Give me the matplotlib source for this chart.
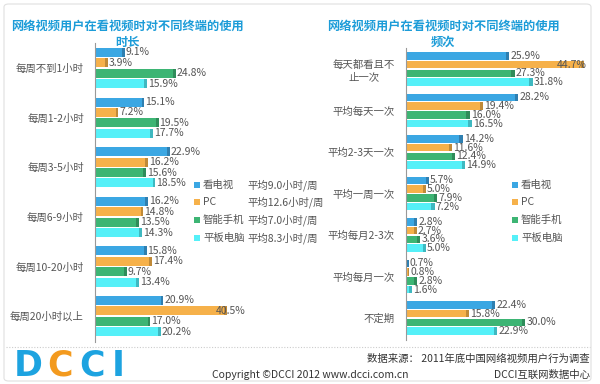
"""
网络视频用户在看视频时对不同终端的使用时长 / 频次 (DCCI 2011)
"""
import numpy as np
import matplotlib
matplotlib.use("Agg")
import matplotlib.pyplot as plt
from matplotlib.patches import Rectangle, FancyBboxPatch

plt.rcParams['font.family'] = ['Noto Sans CJK SC', 'DejaVu Sans']

# ---- data ----
devices = ['看电视', 'PC', '智能手机', '平板电脑']
avg_hours = [9.0, 12.6, 7.0, 8.3]

duration_cats = ['每周不到1小时', '每周1-2小时', '每周3-5小时', '每周6-9小时',
                 '每周10-20小时', '每周20小时以上']
duration_tv = [9.1, 15.1, 22.9, 16.2, 15.8, 20.9]
duration_pc = [3.9, 7.2, 16.2, 14.8, 17.4, 40.5]
duration_phone = [24.8, 19.5, 15.6, 13.5, 9.7, 17.0]
duration_pad = [15.9, 17.7, 18.5, 14.3, 13.4, 20.2]

freq_cats = ['每天都看且不\n止一次', '平均每天一次', '平均2-3天一次', '平均一周一次',
             '平均每月2-3次', '平均每月一次', '不定期']
freq_tv = [25.9, 28.2, 14.2, 5.7, 2.8, 0.7, 22.4]
freq_pc = [44.7, 19.4, 11.6, 5.0, 2.7, 0.8, 15.8]
freq_phone = [27.3, 16.0, 12.4, 7.9, 3.6, 2.8, 30.0]
freq_pad = [31.8, 16.5, 14.9, 7.2, 5.0, 1.6, 22.9]

colors = ['#3BA7E3', '#F6B14A', '#3DB574', '#55F0F8']
caps = ['#2F7FB0', '#C08A38', '#2F8C5A', '#3FB8C0']
title_color = '#1C9CD8'
text_color = '#555555'

W, H = 600, 384
fig = plt.figure(figsize=(6, 3.84), dpi=100)
fig.patch.set_facecolor('white')


def fx(px):
    return px / W


def fy(py):
    return 1 - py / H


# outer frame
fig.patches.append(FancyBboxPatch((fx(4), fy(381)), fx(587), (377 / H),
                                  boxstyle='round,pad=0,rounding_size=0.008',
                                  transform=fig.transFigure, fill=False,
                                  edgecolor='#E0E0E0', linewidth=0.8))


def draw_panel(rect, cats, series, px_per_unit, xmax, top_pad, label_shift):
    ax = fig.add_axes(rect)
    n = len(cats)
    pitch = 0.21
    height = 0.18
    ypos = np.arange(n)
    vmax = max(max(s) for s in series)
    for j, vals in enumerate(series):
        y = ypos + pitch * (j - 1.5)
        vals = np.array(vals)
        ax.barh(y, vals, height=height, color=colors[j], linewidth=0)
        cap = np.minimum(0.8, vals * 0.5)
        ax.barh(y, cap, left=vals - cap, height=height,
                color=caps[j], linewidth=0)
        for yy, v in zip(y, vals):
            if v == vmax:
                x_lab, ha = v + label_shift[0], label_shift[1]
            else:
                x_lab, ha = v + 0.3, 'left'
            ax.text(x_lab, yy, f'{v:.1f}%', va='center', ha=ha,
                    fontsize=7.5, color=text_color)
    ax.set_xlim(0, xmax)
    ax.set_ylim(-top_pad + px_per_unit, -top_pad)
    ax.set_yticks(ypos)
    ax.set_yticklabels(cats, fontsize=7.5, color=text_color,
                       multialignment='center')
    ax.tick_params(axis='y', length=0, pad=8)
    ax.set_xticks([])
    for s in ['top', 'right', 'bottom']:
        ax.spines[s].set_visible(False)
    ax.spines['left'].set_color('#999999')
    ax.spines['left'].set_linewidth(0.8)
    ax.patch.set_alpha(0)
    return ax


# left panel: axis x 95..300 px, y 43..342 px; 3.26 px per %
ax1 = draw_panel([fx(95), fy(342), fx(205), (299 / H)], duration_cats,
                 [duration_tv, duration_pc, duration_phone, duration_pad],
                 299 / 49.6, 205 / 3.26, 0.506, (-3.4, 'left'))
# right panel: axis x 406..595 px, y 48..340 px; 3.98 px per %
ax2 = draw_panel([fx(406), fy(340), fx(189), (292 / H)], freq_cats,
                 [freq_tv, freq_pc, freq_phone, freq_pad],
                 292 / 41.5, 189 / 3.98, 0.506, (0.6, 'right'))

# titles
for cx, second in [(127, '时长'), (443, '频次')]:
    fig.text(fx(cx), fy(26), '网络视频用户在看视频时对不同终端的使用', ha='center', va='center',
             fontsize=8.8, fontweight='bold', color=title_color)
    fig.text(fx(cx), fy(42), second, ha='center', va='center',
             fontsize=8.8, fontweight='bold', color=title_color)

# legends
leg_y = [185, 202, 220, 238]
for j, name in enumerate(devices):
    # left legend with average hours
    fig.patches.append(Rectangle((fx(194), fy(leg_y[j] + 3)), fx(6), 6 / H,
                                 transform=fig.transFigure, color=colors[j], linewidth=0))
    fig.text(fx(203), fy(leg_y[j]), name, ha='left', va='center',
             fontsize=7.5, color=text_color)
    fig.text(fx(247), fy(leg_y[j]), f'平均{avg_hours[j]:.1f}小时/周', ha='left', va='center',
             fontsize=7.5, color=text_color)
    # right legend
    fig.patches.append(Rectangle((fx(512), fy(leg_y[j] + 3)), fx(6), 6 / H,
                                 transform=fig.transFigure, color=colors[j], linewidth=0))
    fig.text(fx(521), fy(leg_y[j]), name, ha='left', va='center',
             fontsize=7.5, color=text_color)

# footer
fig.add_artist(plt.Line2D([fx(6), fx(590)], [fy(347), fy(347)], transform=fig.transFigure,
                          color='#CCCCCC', linewidth=0.8, linestyle=(0, (1, 1.5))))
logo = [('D', 14, '#1DA3E0'), ('C', 47, '#F39A1E'), ('C', 79, '#1DA3E0'), ('I', 112, '#1DA3E0')]
for ch, x, c in logo:
    fig.text(fx(x), fy(366), ch, ha='left', va='center', fontsize=25,
             fontweight='bold', color=c, family='DejaVu Sans')
fig.text(fx(590), fy(359), '数据来源： 2011年底中国网络视频用户行为调查', ha='right', va='center',
         fontsize=7.5, color='#333333')
fig.text(fx(590), fy(375), 'DCCI互联网数据中心', ha='right', va='center',
         fontsize=7.5, color='#333333')
fig.text(fx(212), fy(375), 'Copyright ©DCCI 2012 www.dcci.com.cn', ha='left', va='center',
         fontsize=7.5, color='#333333')

fig.savefig('out.png', dpi=100, facecolor='white')
